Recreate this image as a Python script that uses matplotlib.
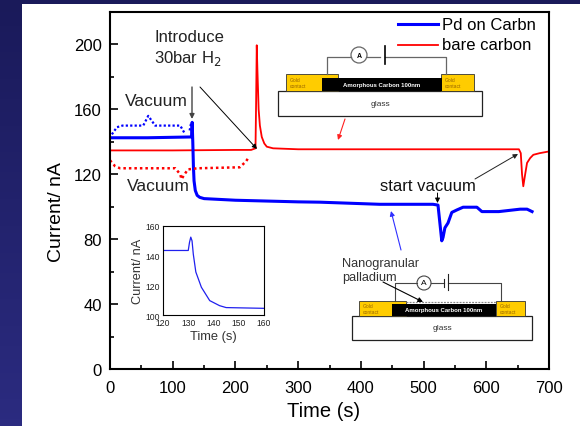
import matplotlib
matplotlib.use('Agg')
from matplotlib import pyplot as plt
from matplotlib.patches import Rectangle
import numpy as np

# main curves
pd_t = [0, 60, 130, 131, 132, 133, 134, 136, 139, 143, 150, 200, 300, 335, 430, 515, 523, 526, 529, 531, 534, 539, 545, 553, 563, 585, 593, 620, 654, 665, 673]
pd_i = [142.5, 142.5, 143, 152, 140, 125, 116, 110, 107, 105.8, 105, 104, 103, 102.8, 101.5, 101.5, 101, 90, 79, 81, 87, 90, 96.5, 98, 99.7, 99.7, 97, 97, 98.5, 98.5, 97]
bare_t = [0, 100, 200, 225, 232, 233, 234, 235, 237, 239, 242, 246, 250, 260, 300, 400, 500, 600, 652, 655, 657, 659, 662, 665, 670, 675, 685, 699]
bare_i = [134.7, 134.7, 135, 135, 136, 165, 199.5, 185, 160, 150, 143, 139, 137, 136, 135.4, 135.4, 135.4, 135.4, 135.4, 133, 120, 112.6, 120, 127, 130, 132, 133, 134]
vac_blue_t = [3, 11, 20, 53, 61, 72, 112, 120]
vac_blue_i = [144.6, 149, 150, 150, 156, 150, 150, 144.6]
vac_blue2_t = [127, 129]
vac_blue2_i = [147, 151]
vac_red_t = [0, 8, 16, 60, 104, 112, 114, 124, 140, 207, 217, 222]
vac_red_i = [128.6, 125, 123.7, 123.7, 123.7, 120, 117, 123, 123.7, 124.3, 128, 131]

# inset curve
ins_t = [120, 130, 130.5, 131, 131.5, 132, 133, 135.2, 138.5, 142.4, 145, 151, 160]
ins_i = [143.5, 143.5, 149, 152.5, 150, 141, 129, 118.7, 109.7, 106.3, 105, 104.8, 104.5]

xticks = [0, 100, 200, 300, 400, 500, 600, 700]
yticks = [0, 40, 80, 120, 160, 200]
ins_xticks = [120, 130, 140, 150, 160]
ins_yticks = [100, 120, 140, 160]

W, H = 580, 427
plt.rcParams['font.family'] = ['Liberation Sans', 'DejaVu Sans']
fig = plt.figure(figsize=(W / 100, H / 100), dpi=100, facecolor='white')

# dark slide background, gets lighter towards the bottom
bg = fig.add_axes([0, 0, 1, 1], zorder=0)
bg.set_xlim(0, W)
bg.set_ylim(H, 0)
bg.axis('off')
c_top = np.array([0x1a, 0x1a, 0x5a]) / 255
c_bot = np.array([0x2b, 0x2b, 0x80]) / 255
grad = np.linspace(0, 1, 64)[:, None, None] * (c_bot - c_top) + c_top
bg.imshow(grad, extent=(0, 22, H, 0), aspect='auto', zorder=1)
bg.set_xlim(0, W)
bg.set_ylim(H, 0)
bg.add_patch(Rectangle((0, 0), W, 5, fc='#1a1a5a', ec='none'))

ax = fig.add_axes([110 / W, 1 - 370 / H, 439 / W, 357 / H], zorder=1)
ax.plot(bare_t, bare_i, c='#ff0000', lw=1.3)
ax.plot(pd_t, pd_i, c='#0000ff', lw=2.2)
ax.plot(vac_blue_t, vac_blue_i, c='#0000ff', lw=1.6, ls=(0, (1, 1)))
ax.plot(vac_blue2_t, vac_blue2_i, c='#0000ff', lw=1.6, ls=(0, (1, 1)))
ax.plot(vac_red_t, vac_red_i, c='#ff0000', lw=1.8, ls=(0, (1, 1.2)))
ax.set_xlim(0, 700)
ax.set_ylim(0, 220)
ax.set_xticks(xticks)
ax.set_yticks(yticks)
ax.set_xticks(range(50, 700, 100), minor=True)
ax.set_yticks(range(20, 220, 40), minor=True)
ax.tick_params(which='major', direction='in', length=6, width=1.2, labelsize=12, pad=6, top=False, right=False)
ax.tick_params(which='minor', direction='in', length=3, width=1.2)
ax.tick_params(axis='x', which='major', pad=8)
for s in ax.spines.values():
    s.set_linewidth(1.5)
ax.set_xlabel('Time (s)', fontsize=14.5)
ax.set_ylabel('Current/ nA', fontsize=14)
ax.xaxis.set_label_coords(0.487, -0.09)
ax.yaxis.set_label_coords(-0.103, 0.443)

# overlay in pixel coords for labels and sketches
ov = fig.add_axes([0, 0, 1, 1], zorder=3)
ov.set_xlim(0, W)
ov.set_ylim(H, 0)
ov.axis('off')
ov.patch.set_alpha(0)

ov.plot([398, 438], [25, 25], c='#0000ff', lw=2.2)
ov.plot([398, 438], [46, 46], c='#ff0000', lw=1.3)
ov.text(442, 25, 'Pd on Carbn', fontsize=12, va='center')
ov.text(442, 46, 'bare carbon', fontsize=12, va='center')

ov.text(154, 37, 'Introduce', fontsize=12, va='center', color='#222222')
ov.text(154, 58, '30bar H$_2$', fontsize=12, va='center', color='#222222')
ov.text(125, 102, 'Vacuum', fontsize=12.5, va='center', color='#222222')
ov.text(127, 187, 'Vacuum', fontsize=12.5, va='center', color='#222222')
ov.text(380, 187, 'start vacuum', fontsize=12, va='center', color='#111111')


def arrow(x0, y0, x1, y1, color='black', lw=0.7):
    ov.annotate('', xy=(x1, y1), xytext=(x0, y0),
                arrowprops=dict(arrowstyle='-|>', color=color, lw=lw, mutation_scale=7, shrinkA=0, shrinkB=0))


arrow(192, 88, 192, 120, color='#444444', lw=1)
arrow(200, 88, 257, 150)
arrow(345, 120, 338, 141, color='#ff2020', lw=0.8)
arrow(475, 180, 518, 155, color='#222222')
arrow(437.5, 194, 437.5, 204)
arrow(401, 251, 391, 212, color='#3030ff', lw=0.8)


def sketch(x0, glass_y, glass_w, glass_h, gold_l, gold_lw, gold_r, gold_rw, film_x, film_w, film_y, gold_y):
    # glass slab, gold contacts, carbon film
    ov.add_patch(Rectangle((x0, glass_y), glass_w, glass_h, fc='white', ec='#222222', lw=0.9))
    ov.add_patch(Rectangle((gold_l, gold_y), gold_lw, glass_y - gold_y, fc='#ffcc00', ec='#333333', lw=0.6))
    ov.add_patch(Rectangle((gold_r, gold_y), gold_rw, glass_y - gold_y, fc='#ffcc00', ec='#333333', lw=0.6))
    ov.add_patch(Rectangle((film_x, film_y), film_w, glass_y - film_y, fc='black', ec='none'))
    ov.text(film_x + film_w / 2, (film_y + glass_y) / 2, 'Amorphous Carbon 100nm', color='white', fontsize=4.3,
            ha='center', va='center', fontweight='bold')
    ov.text(x0 + glass_w / 2, glass_y + glass_h / 2, 'glass', fontsize=6, ha='center', va='center', color='#333333')
    ov.text(gold_l + 4, (gold_y + glass_y) / 2, 'Gold\ncontact', fontsize=3.6, color='#996600', va='center')
    ov.text(gold_r + 4, (gold_y + glass_y) / 2, 'Gold\ncontact', fontsize=3.6, color='#996600', va='center')


# upper device
sketch(278, 92, 204, 25, 286, 52, 441, 33, 322, 120, 79, 75)
ov.plot([327, 327, 351], [75, 58, 58], c='#666666', lw=0.9)
ov.plot([367, 380], [58, 58], c='#666666', lw=0.9)
ov.plot([385, 446, 446], [58, 58, 75], c='#666666', lw=0.9)
ov.plot([385, 385], [47, 65], c='black', lw=1.2)
ov.add_patch(plt.Circle((359, 56), 8, fc='white', ec='#666666', lw=0.9))
ov.text(359, 56, 'A', fontsize=5, ha='center', va='center', fontweight='bold')

# lower device
sketch(352, 317, 180, 24, 359, 47, 496, 29, 392, 104, 305, 302)
ov.plot([406, 496], [303, 303], c='#888888', lw=0.9, ls=(0, (1.5, 1)))
ov.plot([395, 395, 417], [302, 284, 284], c='#444444', lw=0.8)
ov.plot([431, 444], [284, 284], c='#444444', lw=0.8)
ov.plot([448, 501, 501], [284, 284, 302], c='#444444', lw=0.8)
ov.plot([444, 444], [280, 288], c='#222222', lw=0.8)
ov.plot([448, 448], [275, 291], c='#222222', lw=0.8)
ov.add_patch(plt.Circle((424, 284), 7, fc='white', ec='#444444', lw=0.8))
ov.text(424, 284, 'A', fontsize=6, ha='center', va='center')
ov.text(342, 264, 'Nanogranular', fontsize=9.2, va='center', color='#333333')
ov.text(342, 278, 'palladium', fontsize=9.2, va='center', color='#333333')
arrow(383, 283, 423, 303, color='black', lw=0.8)

# inset
ins = fig.add_axes([163 / W, 1 - 316 / H, 101 / W, 89 / H], zorder=4)
ins.plot(ins_t, ins_i, c='#2020ee', lw=0.9)
ins.set_xlim(120, 160)
ins.set_ylim(100, 160)
ins.set_xticks(ins_xticks)
ins.set_yticks(ins_yticks)
ins.tick_params(direction='in', length=0, labelsize=6.2, pad=2, colors='#222222')
for s in ins.spines.values():
    s.set_linewidth(0.8)
ins.set_xlabel('Time (s)', fontsize=9.3, labelpad=2, color='#333333')
ins.set_ylabel('Current/ nA', fontsize=9.2, labelpad=1, color='#333333')

fig.savefig('out.png', dpi=100)
